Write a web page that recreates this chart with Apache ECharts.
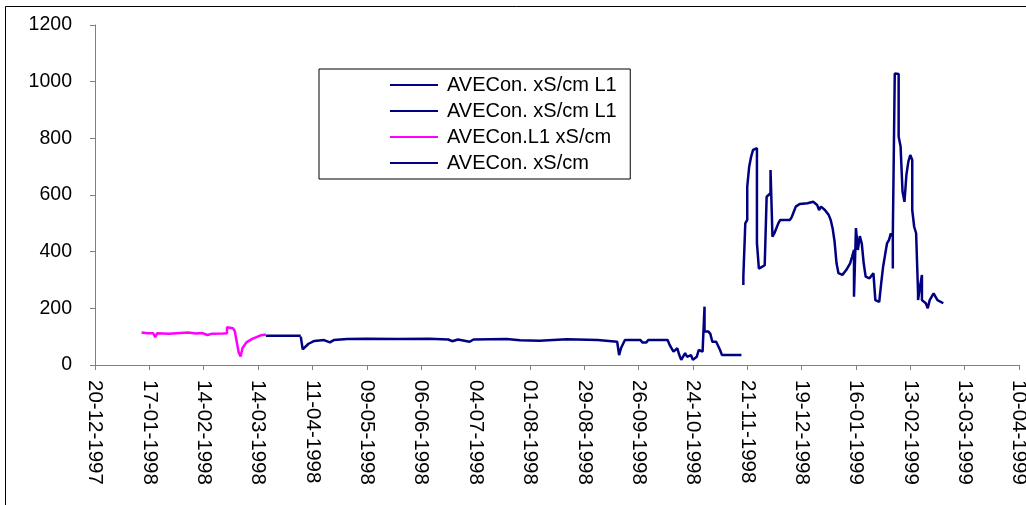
<!DOCTYPE html>
<html lang="en">
<head>
    <meta charset="UTF-8">
    <title>AVECon</title>
    <script src="https://cdn.jsdelivr.net/npm/echarts@6/dist/echarts.min.js"></script>
    <style type="text/css">
        html, body { margin: 0; padding: 0; background: #fff; }
        #chart { width: 1026px; height: 505px; }
    </style>
</head>
<body>
<div id="chart"></div>
<script type="text/javascript">
    // x axis: one tick every 28 days from 20-12-1997 to 10-04-1999
    var axisStart = '1997-12-20';
    var axisEnd = '1999-04-10';
    var tickDays = 28;
    var yTicks = [0, 200, 400, 600, 800, 1000, 1200];

    var legendNames = ['AVECon. xS/cm L1', 'AVECon. xS/cm L1 ', 'AVECon.L1 xS/cm', 'AVECon. xS/cm'];

    // AVECon.L1 xS/cm (pink)
    var pinkData = [
        ['1998-01-13', 115], ['1998-01-16', 112], ['1998-01-19', 112], ['1998-01-20', 98], ['1998-01-21', 112],
        ['1998-01-27', 110], ['1998-02-02', 113], ['1998-02-06', 115], ['1998-02-10', 111], ['1998-02-13', 113],
        ['1998-02-16', 106], ['1998-02-18', 110], ['1998-02-24', 111], ['1998-02-26', 112], ['1998-02-26', 133],
        ['1998-03-01', 130], ['1998-03-02', 120], ['1998-03-03', 118], ['1998-03-04', 45], ['1998-03-05', 30],
        ['1998-03-06', 60], ['1998-03-08', 80], ['1998-03-11', 92], ['1998-03-15', 104], ['1998-03-18', 108]
    ];

    // AVECon. xS/cm L1 (short flat piece)
    var navyA = [
        ['1998-03-18', 103], ['1998-03-26', 103], ['1998-03-27', 106], ['1998-03-28', 103], ['1998-04-05', 103]
    ];

    // AVECon. xS/cm L1 (april - november)
    var navyB = [
        ['1998-04-05', 100], ['1998-04-06', 55], ['1998-04-07', 62], ['1998-04-09', 75], ['1998-04-12', 85],
        ['1998-04-17', 88], ['1998-04-20', 80], ['1998-04-22', 88], ['1998-04-29', 92], ['1998-05-09', 93],
        ['1998-05-25', 92], ['1998-06-10', 93], ['1998-06-20', 90], ['1998-06-22', 84], ['1998-06-25', 90],
        ['1998-07-01', 82], ['1998-07-03', 90], ['1998-07-20', 92], ['1998-07-27', 87], ['1998-07-28', 92],
        ['1998-08-06', 86], ['1998-08-07', 91], ['1998-08-20', 91], ['1998-09-05', 88], ['1998-09-06', 82],
        ['1998-09-15', 82], ['1998-09-16', 35], ['1998-09-17', 60], ['1998-09-19', 88], ['1998-09-27', 88],
        ['1998-09-28', 79], ['1998-09-30', 79], ['1998-10-01', 88], ['1998-10-11', 88], ['1998-10-12', 71],
        ['1998-10-14', 47], ['1998-10-16', 59], ['1998-10-17', 35], ['1998-10-18', 18], ['1998-10-20', 42],
        ['1998-10-21', 29], ['1998-10-23', 35], ['1998-10-24', 18], ['1998-10-26', 29], ['1998-10-27', 53],
        ['1998-10-29', 47], ['1998-10-30', 53], ['1998-10-30', 206], ['1998-10-30', 118], ['1998-11-01', 118],
        ['1998-11-02', 110], ['1998-11-03', 82], ['1998-11-05', 82], ['1998-11-06', 88], ['1998-11-07', 53],
        ['1998-11-08', 35], ['1998-11-18', 35]
    ];

    // AVECon. xS/cm (november - march)
    var navyD = [
        ['1998-11-19', 282], ['1998-11-19', 312], ['1998-11-20', 312], ['1998-11-20', 500], ['1998-11-21', 512],
        ['1998-11-21', 629], ['1998-11-22', 635], ['1998-11-22', 700], ['1998-11-23', 735], ['1998-11-24', 759],
        ['1998-11-26', 765], ['1998-11-26', 430], ['1998-11-27', 340], ['1998-11-28', 340], ['1998-11-30', 352],
        ['1998-12-01', 359], ['1998-12-01', 594], ['1998-12-03', 606], ['1998-12-03', 688], ['1998-12-04', 682],
        ['1998-12-04', 453], ['1998-12-05', 465], ['1998-12-07', 500], ['1998-12-08', 512], ['1998-12-13', 512],
        ['1998-12-14', 523], ['1998-12-16', 559], ['1998-12-18', 568], ['1998-12-22', 571], ['1998-12-25', 576],
        ['1998-12-27', 565], ['1998-12-28', 547], ['1998-12-29', 559], ['1998-12-31', 547], ['1999-01-02', 529],
        ['1999-01-03', 512], ['1999-01-04', 482], ['1999-01-05', 435], ['1999-01-06', 429], ['1999-01-06', 359],
        ['1999-01-07', 324], ['1999-01-09', 318], ['1999-01-11', 335], ['1999-01-13', 359], ['1999-01-14', 382],
        ['1999-01-15', 406], ['1999-01-15', 241], ['1999-01-16', 483], ['1999-01-17', 406], ['1999-01-18', 455],
        ['1999-01-19', 429], ['1999-01-20', 359], ['1999-01-21', 312], ['1999-01-23', 306], ['1999-01-25', 324],
        ['1999-01-26', 229], ['1999-01-28', 223], ['1999-01-29', 288], ['1999-01-30', 347], ['1999-01-31', 388],
        ['1999-02-01', 429], ['1999-02-02', 441], ['1999-02-03', 465], ['1999-02-04', 453], ['1999-02-04', 341],
        ['1999-02-04', 460], ['1999-02-05', 1029], ['1999-02-06', 1035], ['1999-02-07', 1027], ['1999-02-07', 806],
        ['1999-02-08', 771], ['1999-02-09', 612], ['1999-02-10', 576], ['1999-02-11', 671], ['1999-02-12', 718],
        ['1999-02-13', 741], ['1999-02-14', 724], ['1999-02-14', 547], ['1999-02-15', 488], ['1999-02-16', 465],
        ['1999-02-17', 253], ['1999-02-17', 229], ['1999-02-18', 276], ['1999-02-19', 318], ['1999-02-19', 229],
        ['1999-02-21', 218], ['1999-02-22', 200], ['1999-02-23', 229], ['1999-02-25', 253], ['1999-02-26', 253],
        ['1999-02-27', 229], ['1999-03-02', 218]
    ];

    var DAY = 86400000;
    function toUtc(s) {
        var p = s.split('-');
        return Date.UTC(+p[0], +p[1] - 1, +p[2]);
    }
    var t0 = toUtc(axisStart);
    function dayOf(s) {
        return Math.round((toUtc(s) - t0) / DAY);
    }
    function pad(n) {
        return n < 10 ? '0' + n : '' + n;
    }
    function dayLabel(d) {
        var t = new Date(t0 + d * DAY);
        return pad(t.getUTCDate()) + '-' + pad(t.getUTCMonth() + 1) + '-' + t.getUTCFullYear();
    }
    function toXY(list) {
        var out = [];
        for (var i = 0; i < list.length; i++) {
            out.push([dayOf(list[i][0]), list[i][1]]);
        }
        return out;
    }

    var font = '"Liberation Sans", Arial, sans-serif';
    var navy = '#000080';
    var pink = '#FF00FF';

    function lineSeries(name, color, data) {
        return {
            type: 'line',
            name: name,
            data: toXY(data),
            showSymbol: false,
            symbol: 'none',
            animation: false,
            itemStyle: { color: color },
            lineStyle: { color: color, width: 2.5 }
        };
    }

    var myChart = echarts.init(document.getElementById('chart'), null, { renderer: 'canvas' });
    var option = {
        backgroundColor: '#fff',
        animation: false,
        graphic: [{
            type: 'rect',
            shape: { x: 5.5, y: 6.5, width: 1100, height: 600 },
            style: { fill: 'none', stroke: '#000', lineWidth: 1 },
            silent: true,
            z: -10
        }],
        grid: {
            left: 95,
            right: 7,
            top: 25,
            bottom: 140,
            containLabel: false,
            outerBoundsMode: 'none'
        },
        legend: {
            data: legendNames,
            orient: 'vertical',
            left: 319,
            top: 69,
            padding: [6, 8, 6, 71],
            itemWidth: 48,
            itemHeight: 2,
            itemGap: 6,
            icon: 'rect',
            backgroundColor: '#fff',
            borderColor: '#000',
            borderWidth: 1,
            borderRadius: 0,
            selectedMode: false,
            textStyle: {
                fontFamily: font,
                fontSize: 20,
                lineHeight: 20,
                color: '#000',
                padding: [0, 0, 0, 4]
            }
        },
        xAxis: {
            type: 'value',
            min: 0,
            max: dayOf(axisEnd),
            interval: tickDays,
            axisLine: { show: true, onZero: false, lineStyle: { color: '#808080', width: 1 } },
            axisTick: { show: true, length: 5, lineStyle: { color: '#808080' } },
            splitLine: { show: false },
            axisLabel: {
                rotate: -90,
                margin: 15,
                fontFamily: font,
                fontSize: 20.5,
                color: '#000',
                showMinLabel: true,
                showMaxLabel: true,
                formatter: function (v) { return dayLabel(v); }
            }
        },
        yAxis: {
            type: 'value',
            min: yTicks[0],
            max: yTicks[yTicks.length - 1],
            interval: yTicks[1] - yTicks[0],
            axisLine: { show: true, lineStyle: { color: '#808080', width: 1 } },
            axisTick: { show: true, length: 5, lineStyle: { color: '#808080' } },
            splitLine: { show: false },
            axisLabel: {
                margin: 23,
                fontFamily: font,
                fontSize: 19.5,
                color: '#000',
                formatter: function (v) { return String(v); }
            }
        },
        series: [
            lineSeries(legendNames[0], navy, navyB),
            lineSeries(legendNames[1], navy, navyA),
            lineSeries(legendNames[2], pink, pinkData),
            lineSeries(legendNames[3], navy, navyD)
        ]
    };
    myChart.setOption(option);
</script>
</body>
</html>
